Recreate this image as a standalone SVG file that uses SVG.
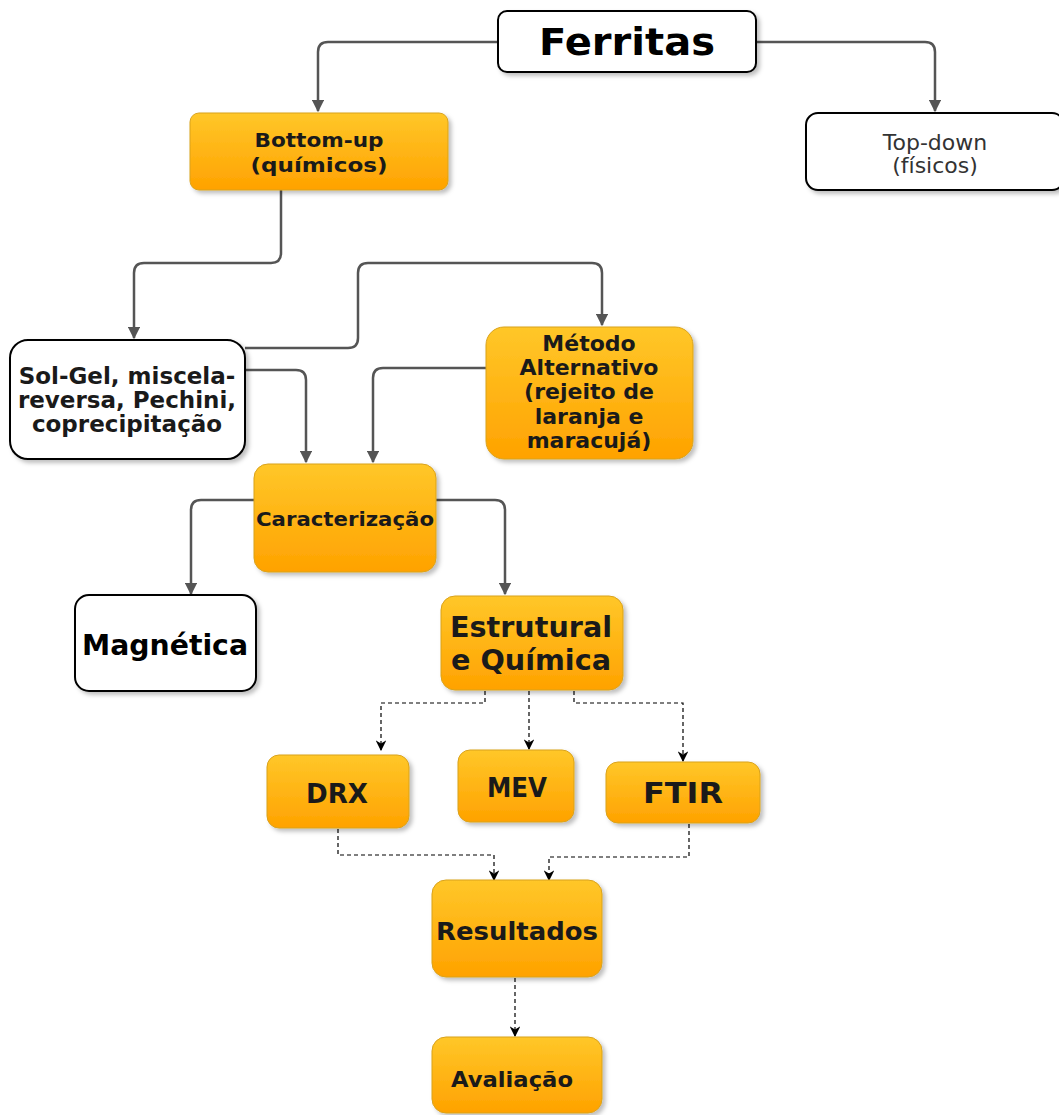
<svg xmlns="http://www.w3.org/2000/svg" width="1059" height="1115" viewBox="0 0 1059 1115">
<defs>
<linearGradient id="og" x1="0" y1="0" x2="0" y2="1">
<stop offset="0" stop-color="#ffc729"/>
<stop offset="1" stop-color="#ffa200"/>
</linearGradient>
<filter id="sh" x="-10%" y="-10%" width="130%" height="130%">
<feDropShadow dx="3" dy="3" stdDeviation="2" flood-color="#000" flood-opacity="0.25"/>
</filter>
<marker id="ah" viewBox="0 0 10 10" refX="9" refY="5" markerWidth="5" markerHeight="5" orient="auto" markerUnits="strokeWidth">
<path d="M0,0 L10,5 L0,10 Z" fill="#555"/>
</marker>
<marker id="ahd" viewBox="0 0 10 10" refX="9" refY="5" markerWidth="9" markerHeight="9" orient="auto" markerUnits="strokeWidth">
<path d="M0,0 L10,5 L0,10 L3,5 Z" fill="#000"/>
</marker>
</defs>
<style>
.w{fill:#fff;stroke:#000;stroke-width:2;filter:url(#sh)}
.o{fill:url(#og);stroke:#d9a21c;stroke-width:1;filter:url(#sh)}
.t{font-family:"DejaVu Sans",Verdana,sans-serif;font-weight:bold;fill:#1a1a1a;text-anchor:middle}
.n{font-family:"DejaVu Sans",Verdana,sans-serif;fill:#333;text-anchor:middle}
.c{fill:none;stroke:#555;stroke-width:2.5;marker-end:url(#ah)}
.d{fill:none;stroke:#000;stroke-width:1.2;stroke-dasharray:4,3;marker-end:url(#ahd)}
</style>
<g id="connectors">
<path class="c" d="M498,42 H328 Q318,42 318,52 V111"/>
<path class="c" d="M756,42 H925 Q935,42 935,52 V111"/>
<path class="c" d="M281,190 V253 Q281,263 271,263 H144 Q134,263 134,273 V338"/>
<path class="c" d="M245,348 H348 Q358,348 358,338 V273 Q358,263 368,263 H592 Q602,263 602,273 V325"/>
<path class="c" d="M245,370 H296 Q306,370 306,380 V462"/>
<path class="c" d="M486,368 H383 Q373,368 373,378 V462"/>
<path class="c" d="M254,500 H201 Q191,500 191,510 V594"/>
<path class="c" d="M436,500 H495 Q505,500 505,510 V594"/>
<path class="d" d="M485,691 V703 H381 V750"/>
<path class="d" d="M529,691 V749"/>
<path class="d" d="M574,691 V703 H683 V761"/>
<path class="d" d="M338,829 V855 H494 V880"/>
<path class="d" d="M689,824 V857 H549 V880"/>
<path class="d" d="M515,978 V1036"/>
</g>
<g id="ferritas">
<rect class="w" x="498" y="11" width="258" height="61" rx="9"/>
<text class="t" x="627" y="55" font-size="37" textLength="176" lengthAdjust="spacingAndGlyphs" style="fill:#000">Ferritas</text>
</g>
<g id="bottomup">
<rect class="o" x="190" y="113" width="258" height="77" rx="9"/>
<text class="t" x="319" y="147" font-size="20" textLength="129" lengthAdjust="spacingAndGlyphs">Bottom-up</text>
<text class="t" x="319" y="172" font-size="20" textLength="137" lengthAdjust="spacingAndGlyphs">(químicos)</text>
</g>
<g id="topdown">
<rect class="w" x="806" y="113" width="258" height="77" rx="12"/>
<text class="n" x="935" y="150" font-size="22">Top-down</text>
<text class="n" x="935" y="173" font-size="22">(físicos)</text>
</g>
<g id="solgel">
<rect class="w" x="10" y="340" width="235" height="119" rx="18"/>
<text class="t" x="127" y="384" font-size="23">Sol-Gel, miscela-</text>
<text class="t" x="127" y="408" font-size="23">reversa, Pechini,</text>
<text class="t" x="127" y="432" font-size="23">coprecipitação</text>
</g>
<g id="metodo">
<rect class="o" x="486" y="327" width="207" height="132" rx="18"/>
<text class="t" x="589" y="351" font-size="22">Método</text>
<text class="t" x="589" y="375" font-size="22">Alternativo</text>
<text class="t" x="589" y="399" font-size="22">(rejeito de</text>
<text class="t" x="589" y="424" font-size="22">laranja e</text>
<text class="t" x="589" y="448" font-size="22">maracujá)</text>
</g>
<g id="caracterizacao">
<rect class="o" x="254" y="464" width="182" height="108" rx="14"/>
<text class="t" x="345" y="526" font-size="20" textLength="178" lengthAdjust="spacingAndGlyphs">Caracterização</text>
</g>
<g id="magnetica">
<rect class="w" x="75" y="595" width="181" height="96" rx="14"/>
<text class="t" x="165" y="655" font-size="28" textLength="166" lengthAdjust="spacingAndGlyphs" style="fill:#000">Magnética</text>
</g>
<g id="estrutural">
<rect class="o" x="441" y="596" width="182" height="94" rx="14"/>
<text class="t" x="531" y="637" font-size="28" textLength="162" lengthAdjust="spacingAndGlyphs">Estrutural</text>
<text class="t" x="531" y="670" font-size="28" textLength="160" lengthAdjust="spacingAndGlyphs">e Química</text>
</g>
<g id="drx">
<rect class="o" x="267" y="755" width="142" height="73" rx="12"/>
<text class="t" x="337" y="803" font-size="26" textLength="62" lengthAdjust="spacingAndGlyphs">DRX</text>
</g>
<g id="mev">
<rect class="o" x="458" y="750" width="116" height="72" rx="12"/>
<text class="t" x="517" y="797" font-size="26" textLength="60" lengthAdjust="spacingAndGlyphs">MEV</text>
</g>
<g id="ftir">
<rect class="o" x="606" y="762" width="154" height="61" rx="12"/>
<text class="t" x="683" y="803" font-size="28" textLength="80" lengthAdjust="spacingAndGlyphs">FTIR</text>
</g>
<g id="resultados">
<rect class="o" x="432" y="880" width="170" height="97" rx="14"/>
<text class="t" x="517" y="940" font-size="25" textLength="162" lengthAdjust="spacingAndGlyphs">Resultados</text>
</g>
<g id="avaliacao">
<rect class="o" x="432" y="1037" width="170" height="76" rx="14"/>
<text class="t" x="512" y="1087" font-size="21" textLength="122" lengthAdjust="spacingAndGlyphs">Avaliação</text>
</g>
</svg>
